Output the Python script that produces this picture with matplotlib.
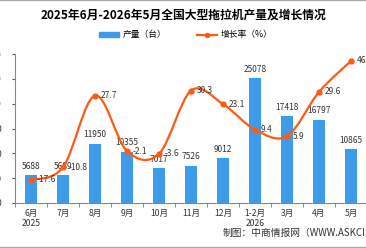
import matplotlib
matplotlib.use("Agg")
import matplotlib.pyplot as plt
from matplotlib.path import Path
from matplotlib.patches import PathPatch, Patch
from matplotlib.lines import Line2D

plt.rcParams['font.family'] = ['Noto Sans CJK SC', 'DejaVu Sans']

months = ["6月\n2025", "7月", "8月", "9月", "10月", "11月", "12月", "1-2月\n2026", "3月", "4月", "5月"]
output = [5688, 5689, 11950, 10355, 7017, 7526, 9012, 25078, 17418, 16797, 10865]
growth = [-17.6, -10.8, 27.7, -2.1, -3.6, 30.3, 23.1, 9.4, 5.9, 29.6, 46.3]

bar_color = "#3d9be9"
line_color = "#ff5a14"

fig = plt.figure(figsize=(3.66, 2.48), dpi=100)
ax = fig.add_axes([15/366, 45/248, 352/366, 149/248])
x = list(range(len(months)))

ax.bar(x, output, width=0.38, color=bar_color, zorder=2)
for xi, v in zip(x, output):
    ax.annotate(str(v), (xi, v), xytext=(0, 3), textcoords="offset points",
                ha="center", va="bottom", fontsize=6, color="#333333")

ax.set_xlim(-0.5, len(months) - 0.5)
ax.set_ylim(0, 30000)
ax.set_yticks(range(0, 30001, 5000))
ax.tick_params(axis="y", labelsize=6.2, length=2.5, pad=7, colors="#555555", labelcolor="#333333")
ax.set_xticks(x)
ax.set_xticklabels(months, fontsize=6.2, color="#333333", linespacing=1.2)
ax.set_xticks([i - 0.5 for i in range(len(months) + 1)], minor=True)
ax.tick_params(axis="x", which="major", length=0, pad=4)
ax.tick_params(axis="x", which="minor", length=3, color="#777777")
for s in ["top", "right"]:
    ax.spines[s].set_visible(False)
ax.spines["left"].set_color("#888888")
ax.spines["bottom"].set_color("#888888")

# growth line on a hidden second axis, smoothed with bezier segments
ax2 = ax.twinx()
ax2.set_ylim(-30, 50)
ax2.axis("off")
pts = list(zip(x, growth))
verts = [pts[0]]
codes = [Path.MOVETO]
for i in range(len(pts) - 1):
    p0 = pts[i - 1] if i > 0 else pts[i]
    p1 = pts[i]
    p2 = pts[i + 1]
    p3 = pts[i + 2] if i + 2 < len(pts) else pts[i + 1]
    c1 = (p1[0] + (p2[0] - p0[0]) / 6, p1[1] + (p2[1] - p0[1]) / 6)
    c2 = (p2[0] - (p3[0] - p1[0]) / 6, p2[1] - (p3[1] - p1[1]) / 6)
    verts += [c1, c2, p2]
    codes += [Path.CURVE4] * 3
ax2.add_patch(PathPatch(Path(verts, codes), facecolor="none", edgecolor=line_color, lw=1.6, zorder=3))
ax2.plot(x, growth, linestyle="none", marker="o", markersize=3.5, color=line_color, zorder=4)
for xi, g in zip(x, growth):
    ax2.annotate(f"{g:.1f}", (xi, g), xytext=(4, 0), textcoords="offset points",
                 ha="left", va="center", fontsize=6, color="#333333")

fig.text(0.5, 1 - 15/248, "2025年6月-2026年5月全国大型拖拉机产量及增长情况",
         ha="center", va="center", fontsize=8.5, fontweight="bold")
handles = [Patch(color=bar_color),
           Line2D([], [], color=line_color, lw=1.6, marker="o", markersize=3)]
fig.legend(handles, ["产量（台）", "增长率（%）"], loc="center", bbox_to_anchor=(0.508, 1 - 35/248),
           ncol=2, frameon=False, fontsize=6.3, handlelength=2.3, handleheight=0.5,
           columnspacing=3.5, handletextpad=0.4)
fig.text(223/366, 1 - 233/248, "制图：中商情报网（WWW.ASKCI.COM）", ha="left", va="center",
         fontsize=7, color="#333333")
fig.add_artist(Line2D([0, 1], [0.998, 0.998], color="#aaaaaa", lw=1))
fig.add_artist(Line2D([0, 1], [0.005, 0.005], color="#aaaaaa", lw=1))

fig.savefig("out.png", dpi=100)
